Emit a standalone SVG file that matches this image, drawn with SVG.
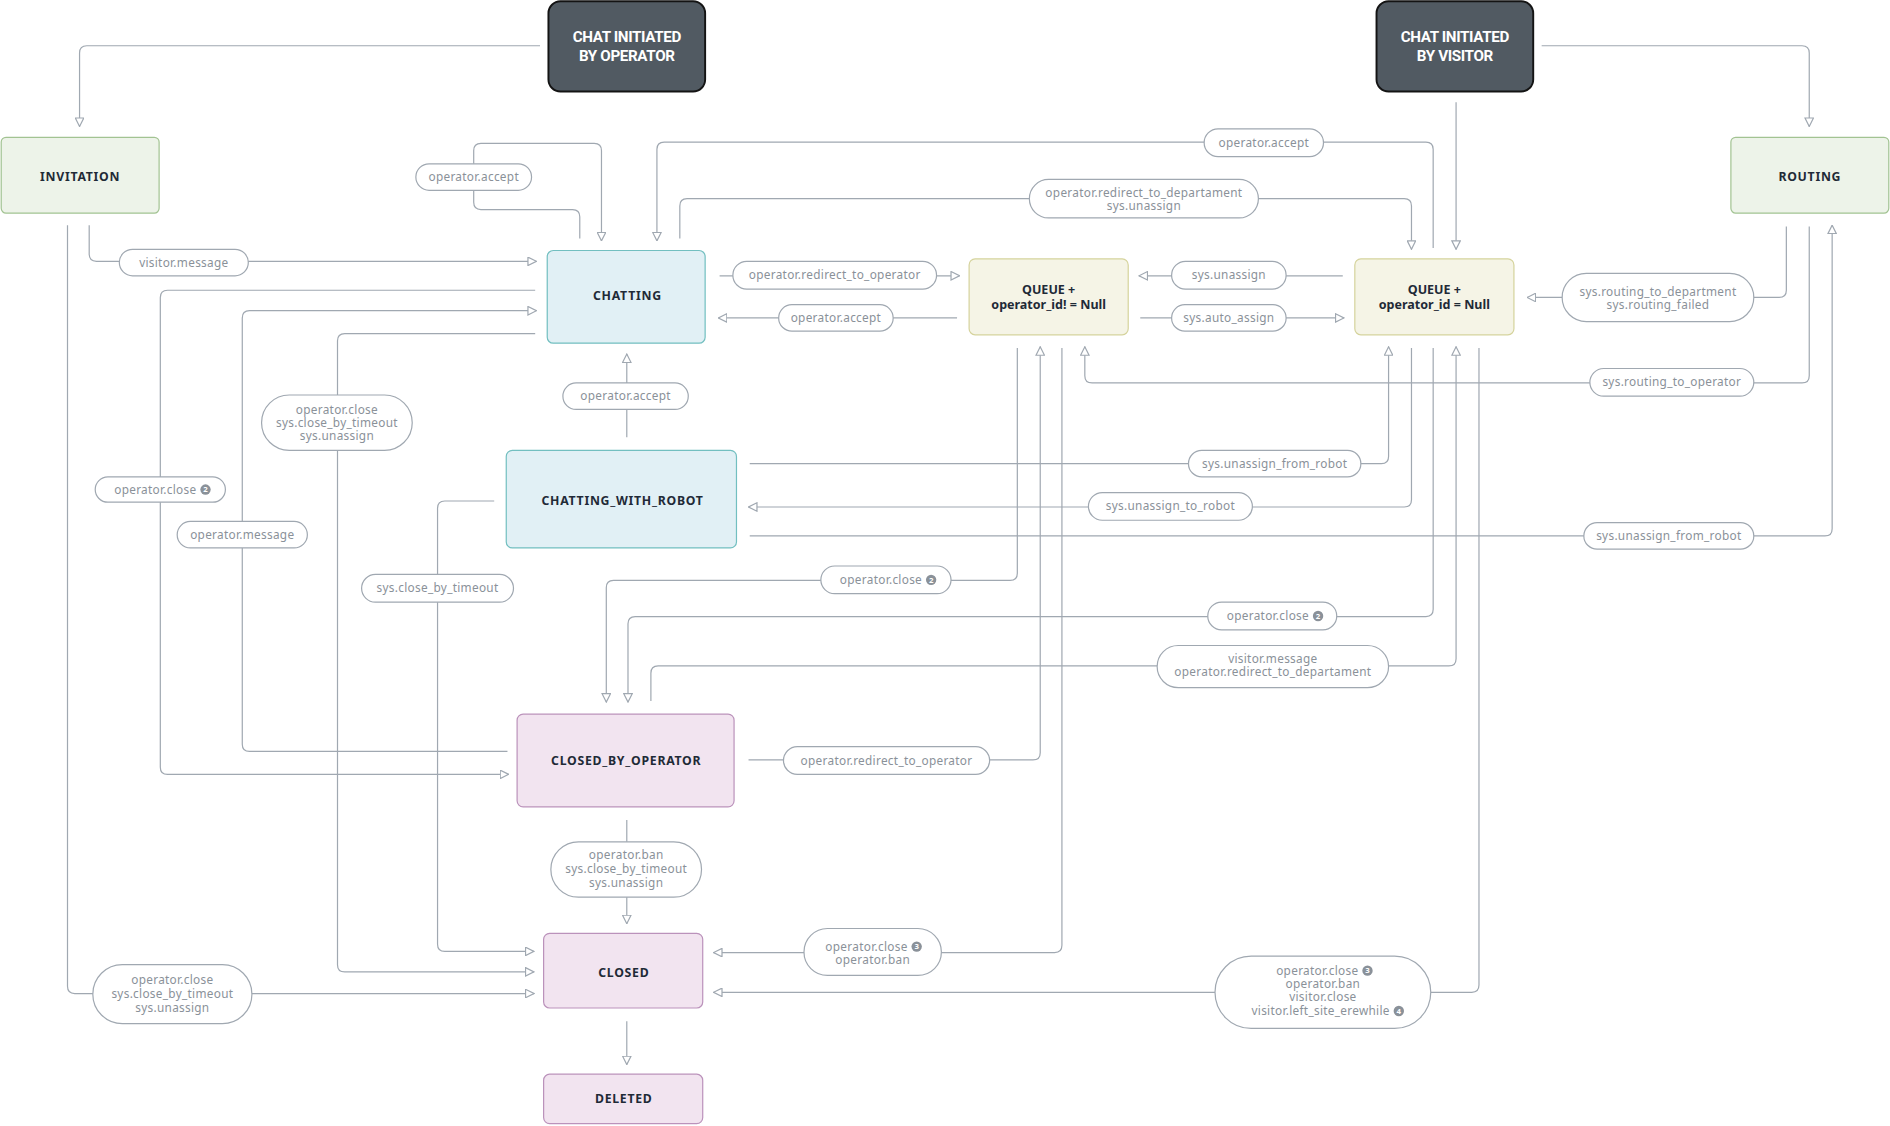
<svg xmlns="http://www.w3.org/2000/svg" width="1890" height="1126" viewBox="0 0 1890 1126">
<defs>
<style>
.ln{fill:none;stroke:#a0a8b1;stroke-width:1}
.pill{fill:#ffffff;stroke:#a0a8b1;stroke-width:1}
.pt{font-family:"Noto Sans","Open Sans",sans-serif;font-size:9.8px;fill:#8a9199;text-anchor:middle;letter-spacing:0.25px}
.pe{font-family:"Noto Sans","Open Sans",sans-serif;font-size:9.8px;fill:#8a9199;text-anchor:end;letter-spacing:0.25px}
.bd{fill:#8a9199}
.bt{font-family:"Noto Sans",sans-serif;font-size:6.5px;font-weight:700;fill:#ffffff;text-anchor:middle}
.nt{font-family:"Noto Sans","Open Sans",sans-serif;font-size:10.2px;font-weight:700;fill:#1f2a37;text-anchor:middle;letter-spacing:0.6px}
.qt{font-family:"Noto Sans","Open Sans",sans-serif;font-size:10.4px;font-weight:700;fill:#1f2a37;text-anchor:middle}
.dt{font-family:"Roboto","Noto Sans",sans-serif;font-size:12.6px;font-weight:700;fill:#ffffff;text-anchor:middle;letter-spacing:-0.3px}
.dark{fill:#515a62;stroke:#141414;stroke-width:1.6}
.green{fill:#edf3e9;stroke:#a2c392;stroke-width:1}
.blue{fill:#e1f0f5;stroke:#72bfc0;stroke-width:1}
.yel{fill:#f5f4e6;stroke:#d5d39c;stroke-width:1}
.pink{fill:#f2e4f0;stroke:#bb92bb;stroke-width:1}
</style>
<marker id="ar" viewBox="0 0 8 8" markerWidth="8" markerHeight="8" refX="7.5" refY="4" orient="auto" markerUnits="userSpaceOnUse">
<path d="M0.5,0.5 L7.5,4 L0.5,7.5 Z" fill="#ffffff" stroke="#a0a8b1" stroke-width="1"/>
</marker>
</defs>
<rect width="1890" height="1126" fill="#ffffff"/>
<g transform="scale(1.20536 1.20428)">
<g id="connectors">
<path class="ln" marker-end="url(#ar)" d="M448,38 H72 Q66,38 66,44 V105"/>
<path class="ln" marker-end="url(#ar)" d="M1279,38 H1495 Q1501,38 1501,44 V105"/>
<path class="ln" marker-end="url(#ar)" d="M1208,85 V207"/>
<path class="ln" marker-end="url(#ar)" d="M74,187 V211 Q74,217 80,217 H445"/>
<path class="ln" marker-end="url(#ar)" d="M56,187 V819 Q56,825 62,825 H443"/>
<path class="ln" marker-end="url(#ar)" d="M444,241 H139 Q133,241 133,247 V637 Q133,643 139,643 H422"/>
<path class="ln" marker-end="url(#ar)" d="M421,624 H207 Q201,624 201,618 V264 Q201,258 207,258 H445"/>
<path class="ln" marker-end="url(#ar)" d="M444,277 H286 Q280,277 280,283 V801 Q280,807 286,807 H443"/>
<path class="ln" marker-end="url(#ar)" d="M481,198 V180 Q481,174 475,174 H399 Q393,174 393,168 V125 Q393,119 399,119 H493 Q499,119 499,125 V200"/>
<path class="ln" marker-end="url(#ar)" d="M1189,206 V124 Q1189,118 1183,118 H551 Q545,118 545,124 V200"/>
<path class="ln" marker-end="url(#ar)" d="M564,198 V171 Q564,165 570,165 H1165 Q1171,165 1171,171 V207"/>
<path class="ln" marker-end="url(#ar)" d="M597,229 H796"/>
<path class="ln" marker-end="url(#ar)" d="M794,264 H596"/>
<path class="ln" marker-end="url(#ar)" d="M1114,229 H945"/>
<path class="ln" marker-end="url(#ar)" d="M946,264 H1115"/>
<path class="ln" marker-end="url(#ar)" d="M1482,188 V241 Q1482,247 1476,247 H1267"/>
<path class="ln" marker-end="url(#ar)" d="M1501,188 V312 Q1501,318 1495,318 H906 Q900,318 900,312 V288"/>
<path class="ln" marker-end="url(#ar)" d="M520,363 V294"/>
<path class="ln" marker-end="url(#ar)" d="M622,385 H1146 Q1152,385 1152,379 V288"/>
<path class="ln" marker-end="url(#ar)" d="M1171,289 V415 Q1171,421 1165,421 H621"/>
<path class="ln" marker-end="url(#ar)" d="M622,445 H1514 Q1520,445 1520,439 V187"/>
<path class="ln" marker-end="url(#ar)" d="M410,416 H369 Q363,416 363,422 V784 Q363,790 369,790 H443"/>
<path class="ln" marker-end="url(#ar)" d="M844,289 V476 Q844,482 838,482 H509 Q503,482 503,488 V583"/>
<path class="ln" marker-end="url(#ar)" d="M1189,289 V506 Q1189,512 1183,512 H527 Q521,512 521,518 V583"/>
<path class="ln" marker-end="url(#ar)" d="M540,582 V559 Q540,553 546,553 H1202 Q1208,553 1208,547 V288"/>
<path class="ln" marker-end="url(#ar)" d="M621,631 H857 Q863,631 863,625 V288"/>
<path class="ln" marker-end="url(#ar)" d="M520,681 V767"/>
<path class="ln" marker-end="url(#ar)" d="M881,289 V785 Q881,791 875,791 H592"/>
<path class="ln" marker-end="url(#ar)" d="M1227,289 V818 Q1227,824 1221,824 H592"/>
<path class="ln" marker-end="url(#ar)" d="M520,848 V884"/>
</g>
<g id="labels">
<rect class="pill" x="99" y="207" width="107" height="22" rx="11"/>
<text class="pt" x="152.5" y="221.4">visitor.message</text>
<rect class="pill" x="345" y="136" width="96" height="22" rx="11"/>
<text class="pt" x="393" y="150.4">operator.accept</text>
<rect class="pill" x="999" y="107" width="99" height="23" rx="11.5"/>
<text class="pt" x="1048.5" y="121.9">operator.accept</text>
<rect class="pill" x="854" y="149" width="190" height="32" rx="16"/>
<text class="pt" x="949" y="163.4">operator.redirect_to_departament</text>
<text class="pt" x="949" y="174.6">sys.unassign</text>
<rect class="pill" x="608" y="217" width="169" height="23" rx="11.5"/>
<text class="pt" x="692.5" y="231.9">operator.redirect_to_operator</text>
<rect class="pill" x="646" y="253" width="95" height="22" rx="11"/>
<text class="pt" x="693.5" y="267.4">operator.accept</text>
<rect class="pill" x="972" y="217" width="95" height="23" rx="11.5"/>
<text class="pt" x="1019.5" y="231.9">sys.unassign</text>
<rect class="pill" x="972" y="253" width="95" height="22" rx="11"/>
<text class="pt" x="1019.5" y="267.4">sys.auto_assign</text>
<rect class="pill" x="1296" y="227" width="159" height="40" rx="20"/>
<text class="pt" x="1375.5" y="245.4">sys.routing_to_department</text>
<text class="pt" x="1375.5" y="256.4">sys.routing_failed</text>
<rect class="pill" x="1319" y="306" width="136" height="23" rx="11.5"/>
<text class="pt" x="1387" y="320.9">sys.routing_to_operator</text>
<rect class="pill" x="467" y="318" width="104" height="22" rx="11"/>
<text class="pt" x="519" y="332.4">operator.accept</text>
<rect class="pill" x="217" y="328" width="125" height="46" rx="23"/>
<text class="pt" x="279.5" y="343.4">operator.close</text>
<text class="pt" x="279.5" y="354.4">sys.close_by_timeout</text>
<text class="pt" x="279.5" y="365.4">sys.unassign</text>
<rect class="pill" x="79" y="396" width="108" height="21" rx="10.5"/>
<text class="pe" x="163" y="409.9">operator.close</text>
<circle class="bd" cx="170.5" cy="406.5" r="4.3"/>
<text class="bt" x="170.5" y="408.8">2</text>
<rect class="pill" x="147" y="433" width="108" height="22" rx="11"/>
<text class="pt" x="201" y="447.4">operator.message</text>
<rect class="pill" x="986" y="374" width="143" height="22" rx="11"/>
<text class="pt" x="1057.5" y="388.4">sys.unassign_from_robot</text>
<rect class="pill" x="903" y="409" width="136" height="23" rx="11.5"/>
<text class="pt" x="971" y="423.9">sys.unassign_to_robot</text>
<rect class="pill" x="1314" y="434" width="141" height="22" rx="11"/>
<text class="pt" x="1384.5" y="448.4">sys.unassign_from_robot</text>
<rect class="pill" x="300" y="477" width="126" height="23" rx="11.5"/>
<text class="pt" x="363" y="491.9">sys.close_by_timeout</text>
<rect class="pill" x="681" y="470" width="108" height="23" rx="11.5"/>
<text class="pe" x="765" y="484.9">operator.close</text>
<circle class="bd" cx="772.5" cy="481.5" r="4.3"/>
<text class="bt" x="772.5" y="483.8">2</text>
<rect class="pill" x="1002" y="500" width="107" height="23" rx="11.5"/>
<text class="pe" x="1086" y="514.9">operator.close</text>
<circle class="bd" cx="1093.5" cy="511.5" r="4.3"/>
<text class="bt" x="1093.5" y="513.8">2</text>
<rect class="pill" x="960" y="536" width="192" height="35" rx="17.5"/>
<text class="pt" x="1056" y="550.4">visitor.message</text>
<text class="pt" x="1056" y="561.6">operator.redirect_to_departament</text>
<rect class="pill" x="650" y="620" width="171" height="23" rx="11.5"/>
<text class="pt" x="735.5" y="634.9">operator.redirect_to_operator</text>
<rect class="pill" x="457" y="699" width="125" height="46" rx="23"/>
<text class="pt" x="519.5" y="713.4">operator.ban</text>
<text class="pt" x="519.5" y="724.9">sys.close_by_timeout</text>
<text class="pt" x="519.5" y="736.4">sys.unassign</text>
<rect class="pill" x="667" y="771" width="114" height="39" rx="19.5"/>
<text class="pe" x="753" y="789.4">operator.close</text>
<circle class="bd" cx="760.5" cy="786" r="4.3"/>
<text class="bt" x="760.5" y="788.3">3</text>
<text class="pt" x="724" y="800.6">operator.ban</text>
<rect class="pill" x="1008" y="794" width="179" height="60" rx="30"/>
<text class="pe" x="1127" y="809.4">operator.close</text>
<circle class="bd" cx="1134.5" cy="806" r="4.3"/>
<text class="bt" x="1134.5" y="808.3">3</text>
<text class="pt" x="1097.5" y="820.6">operator.ban</text>
<text class="pt" x="1097.5" y="831.6">visitor.close</text>
<text class="pe" x="1153" y="842.6">visitor.left_site_erewhile</text>
<circle class="bd" cx="1160.5" cy="839.5" r="4.3"/>
<text class="bt" x="1160.5" y="841.8">4</text>
<rect class="pill" x="77" y="801" width="132" height="49" rx="24.5"/>
<text class="pt" x="143" y="817.4">operator.close</text>
<text class="pt" x="143" y="828.6">sys.close_by_timeout</text>
<text class="pt" x="143" y="840.1">sys.unassign</text>
</g>
<g id="node-chat-initiated-by-operator">
<rect class="dark" x="455" y="1" width="130" height="75" rx="10"/>
<text class="dt" x="520" y="35">CHAT INITIATED</text>
<text class="dt" x="520" y="51">BY OPERATOR</text>
</g>
<g id="node-chat-initiated-by-visitor">
<rect class="dark" x="1142" y="1" width="130" height="75" rx="10"/>
<text class="dt" x="1207" y="35">CHAT INITIATED</text>
<text class="dt" x="1207" y="51">BY VISITOR</text>
</g>
<g id="node-invitation">
<rect class="green" x="1" y="114" width="131" height="63" rx="4"/>
<text class="nt" x="66.5" y="150.5">INVITATION</text>
</g>
<g id="node-routing">
<rect class="green" x="1436" y="114" width="131" height="63" rx="4"/>
<text class="nt" x="1501.5" y="150.5">ROUTING</text>
</g>
<g id="node-chatting">
<rect class="blue" x="454" y="208" width="131" height="77" rx="5"/>
<text class="nt" x="520.5" y="249.5">CHATTING</text>
</g>
<g id="node-queue-assigned">
<rect class="yel" x="804" y="215" width="132" height="63" rx="5"/>
<text class="qt" x="870" y="244">QUEUE +</text>
<text class="qt" x="870" y="256.5">operator_id! = Null</text>
</g>
<g id="node-queue-unassigned">
<rect class="yel" x="1124" y="215" width="132" height="63" rx="5"/>
<text class="qt" x="1190" y="244">QUEUE +</text>
<text class="qt" x="1190" y="256.5">operator_id = Null</text>
</g>
<g id="node-chatting-with-robot">
<rect class="blue" x="420" y="374" width="191" height="81" rx="5"/>
<text class="nt" x="516.5" y="419.5">CHATTING_WITH_ROBOT</text>
</g>
<g id="node-closed-by-operator">
<rect class="pink" x="429" y="593" width="180" height="77" rx="5"/>
<text class="nt" x="519.5" y="635.5">CLOSED_BY_OPERATOR</text>
</g>
<g id="node-closed">
<rect class="pink" x="451" y="775" width="132" height="62" rx="5"/>
<text class="nt" x="517.5" y="811">CLOSED</text>
</g>
<g id="node-deleted">
<rect class="pink" x="451" y="892" width="132" height="41" rx="5"/>
<text class="nt" x="517.5" y="916">DELETED</text>
</g>
</g>
</svg>
